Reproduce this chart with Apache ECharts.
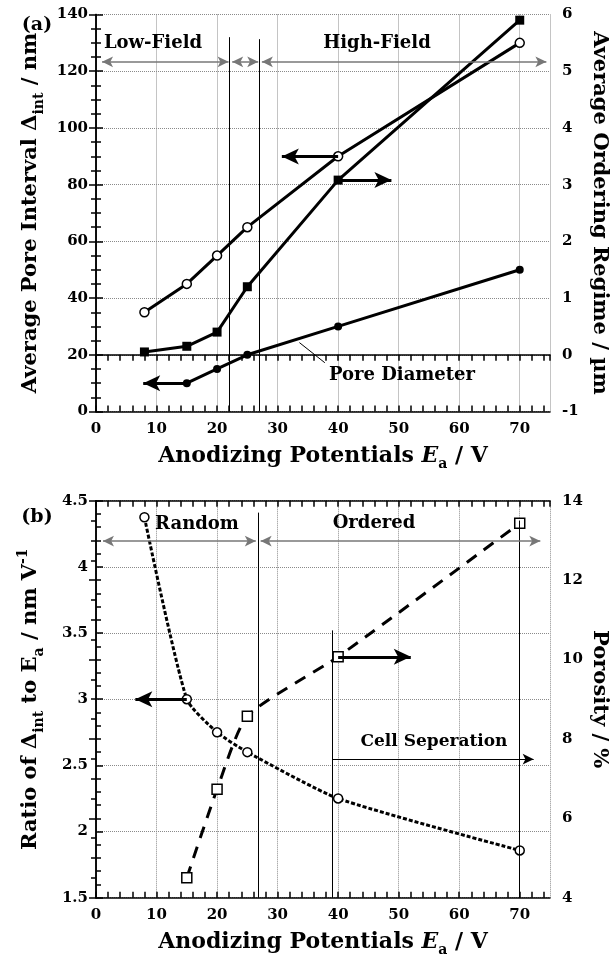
<!DOCTYPE html>
<html>
<head>
<meta charset="utf-8">
<script src="https://cdn.jsdelivr.net/npm/echarts@6/dist/echarts.min.js"></script>
<style>
  html, body { margin: 0; padding: 0; background: #fff; }
  #chart { width: 615px; height: 970px; }
</style>
</head>
<body>
<div id="chart"></div>
<script>
// (a) 세공 간격 / 정렬 영역 / 세공 직경
var voltsA = [8, 15, 20, 25, 40, 70];
var poreInterval = [35, 45, 55, 65, 90, 130];
var orderingRegime = [0.05, 0.15, 0.4, 1.2, 3.08, 5.9];
var voltsDiam = [15, 20, 25, 40, 70];
var poreDiameter = [10, 15, 20, 30, 50];
// (b) 간격/전압 비 와 다공도
var voltsB = [8, 15, 20, 25, 40, 70];
var ratioInterval = [4.375, 3.0, 2.75, 2.6, 2.25, 1.857];
var voltsPor = [15, 20, 25, 40, 70];
var porosity = [4.5, 6.73, 8.57, 10.07, 13.43];

var FONT = "DejaVu Serif";
var GRID_CLR = "#8a8a8a";
var ARROW_GRAY = "#777";

function pairs(xs, ys) {
  return xs.map(function (x, i) { return [x, ys[i]]; });
}

function nameStyle(size) {
  return { fontFamily: FONT, fontWeight: "bold", fontSize: size, color: "#000",
           lineHeight: 30,
           rich: {
             sub: { fontFamily: FONT, fontWeight: "bold", fontSize: 14, lineHeight: 14, verticalAlign: "bottom" },
             sup: { fontFamily: FONT, fontWeight: "bold", fontSize: 14, lineHeight: 14, verticalAlign: "top" },
             it: { fontFamily: FONT, fontWeight: "bold", fontStyle: "italic", fontSize: size }
           } };
}
var labelStyle = { fontFamily: FONT, fontWeight: "bold", fontSize: 15, color: "#000" };
var axisLineBlack = { show: true, lineStyle: { color: "#000", width: 1.5 } };

// x 축: 눈금(2V 간격) 아래/위 + 격자(10V) 전용 축
function xAxes(grid) {
  return [
    { gridIndex: grid, type: "value", position: "bottom", min: 0, max: 75, interval: 2,
      axisLine: axisLineBlack,
      axisTick: { inside: true, length: 6, lineStyle: { color: "#000", width: 1.5 } },
      axisLabel: Object.assign({ margin: 10, showMaxLabel: false,
        formatter: function (v) { return v % 10 === 0 ? String(v) : ""; } }, labelStyle),
      splitLine: { show: false },
      name: "Anodizing Potentials {it|E}{sub|a} / V",
      nameLocation: "middle", nameGap: 30, nameMoveOverlap: false,
      nameTextStyle: nameStyle(22) },
    { gridIndex: grid, type: "value", position: "top", min: 0, max: 75, interval: 2,
      axisLine: axisLineBlack,
      axisTick: { inside: true, length: 6, lineStyle: { color: "#000", width: 1.5 } },
      axisLabel: { show: false }, splitLine: { show: false } },
    { gridIndex: grid, type: "value", position: "bottom", min: 0, max: 75, interval: 10,
      axisLine: { show: false }, axisTick: { show: false },
      axisLabel: { show: false },
      splitLine: { show: true, lineStyle: { color: GRID_CLR, type: "dotted", width: 1 } } }
  ];
}

function yAxis(grid, pos, min, max, interval, minorSplit, name, gap, rotate, withSplit) {
  return {
    gridIndex: grid, type: "value", position: pos, min: min, max: max, interval: interval,
    axisLine: axisLineBlack,
    axisTick: { inside: true, length: 7, lineStyle: { color: "#000", width: 1.5 } },
    minorTick: { show: true, splitNumber: minorSplit, length: 5, lineStyle: { color: "#000", width: 1.5 } },
    axisLabel: Object.assign({ margin: pos === "left" ? 8 : 12 }, labelStyle),
    splitLine: { show: withSplit, lineStyle: { color: GRID_CLR, type: "dotted", width: 1 } },
    name: name, nameLocation: "middle", nameGap: gap, nameRotate: rotate,
    nameMoveOverlap: false, nameTextStyle: nameStyle(21)
  };
}

function seg(x1, y1, x2, y2, s1, s2, color, width, size) {
  return [
    { coord: [x1, y1], symbol: s1, symbolSize: size, lineStyle: { color: color, width: width, type: "solid" } },
    { coord: [x2, y2], symbol: s2, symbolSize: size }
  ];
}
var BIG = [12, 17], SMALL = [8, 11];

var topMarks = [
  // 영역 구분 수직선
  seg(22, 0, 22, 132, "none", "none", "#000", 1, 1),
  seg(27, 0, 27, 131.3, "none", "none", "#000", 1, 1),
  // Low/High-Field 범위 화살표
  seg(1, 123.3, 21.9, 123.3, "arrow", "arrow", ARROW_GRAY, 1.5, SMALL),
  seg(22.5, 123.3, 26.8, 123.3, "arrow", "arrow", ARROW_GRAY, 1.5, SMALL),
  seg(27.4, 123.3, 74.4, 123.3, "arrow", "arrow", ARROW_GRAY, 1.5, SMALL),
  // 축 지시 화살표
  seg(40, 89.9, 30.7, 89.9, "none", "arrow", "#000", 3, BIG),
  seg(40, 81.6, 48.8, 81.6, "none", "arrow", "#000", 3, BIG),
  seg(15, 10, 7.8, 10, "none", "arrow", "#000", 3, BIG),
  // Pore Diameter 지시선
  seg(33.6, 24.3, 37.8, 17.2, "none", "none", "#000", 1, 1)
];

var botMarks = [
  seg(26.8, 1.5, 26.8, 4.41, "none", "none", "#000", 1, 1),
  seg(39.1, 1.5, 39.1, 3.52, "none", "none", "#000", 1, 1),
  seg(70, 1.5, 70, 4.35, "none", "none", "#000", 1, 1),
  seg(1.15, 4.195, 26.4, 4.195, "arrow", "arrow", ARROW_GRAY, 1.5, SMALL),
  seg(27.2, 4.195, 73.4, 4.195, "arrow", "arrow", ARROW_GRAY, 1.5, SMALL),
  seg(39.1, 2.547, 72.3, 2.547, "none", "arrow", "#000", 1, SMALL),
  seg(15, 3.0, 6.5, 3.0, "none", "arrow", "#000", 3, BIG),
  seg(40, 3.32, 52, 3.32, "none", "arrow", "#000", 3, BIG)
];

function markLines(data) {
  return { silent: true, animation: false, label: { show: false },
           emphasis: { disabled: true }, data: data };
}

var openStyle = { color: "#fff", borderColor: "#000", borderWidth: 1.5 };
var solidStyle = { color: "#000", borderColor: "#000", borderWidth: 0 };

function txt(x, y, s, size) {
  return { type: "text", x: x, y: y, z: 10,
           style: { text: s, font: "bold " + size + "px '" + FONT + "'", fill: "#000",
                    align: "center", verticalAlign: "middle" } };
}

var chart = echarts.init(document.getElementById("chart"), null, { renderer: "canvas" });
chart.setOption({
  animation: false,
  backgroundColor: "#fff",
  grid: [
    { left: 96, top: 14.5, width: 454, height: 397, outerBoundsMode: "none", containLabel: false },
    { left: 96, top: 500.7, width: 454, height: 397, outerBoundsMode: "none", containLabel: false }
  ],
  xAxis: xAxes(0).concat(xAxes(1)),
  yAxis: [
    yAxis(0, "left", 0, 140, 20, 4, "Average Pore Interval \u0394{sub|int} / nm", 50, 90, true),
    yAxis(0, "right", -1, 6, 1, 4, "Average Ordering Regime / \u00b5m", 34, -90, false),
    yAxis(1, "left", 1.5, 4.5, 0.5, 5, "Ratio of \u0394{sub|int} to E{sub|a} / nm V{sup|-1}", 50, 90, true),
    yAxis(1, "right", 4, 14, 2, 4, "Porosity / %", 34, -90, false)
  ],
  series: [
    { name: "interval", type: "line", xAxisIndex: 0, yAxisIndex: 0,
      data: pairs(voltsA, poreInterval), symbol: "circle", symbolSize: 9,
      lineStyle: { color: "#000", width: 3 }, itemStyle: openStyle, z: 3,
      markLine: markLines(topMarks) },
    { name: "ordering", type: "line", xAxisIndex: 0, yAxisIndex: 1,
      data: pairs(voltsA, orderingRegime), symbol: "rect", symbolSize: 9,
      lineStyle: { color: "#000", width: 3 }, itemStyle: solidStyle, z: 3 },
    { name: "diameter", type: "line", xAxisIndex: 0, yAxisIndex: 0,
      data: pairs(voltsDiam, poreDiameter), symbol: "circle", symbolSize: 8,
      lineStyle: { color: "#000", width: 3 }, itemStyle: solidStyle, z: 3 },
    { name: "ratio", type: "line", xAxisIndex: 3, yAxisIndex: 2,
      data: pairs(voltsB, ratioInterval), symbol: "circle", symbolSize: 9,
      smooth: 0.2,
      lineStyle: { color: "#000", width: 3, type: [4, 2] }, itemStyle: openStyle, z: 3,
      markLine: markLines(botMarks) },
    { name: "porosity", type: "line", xAxisIndex: 3, yAxisIndex: 3,
      data: pairs(voltsPor, porosity), symbol: "rect", symbolSize: 10,
      smooth: 0.2,
      lineStyle: { color: "#000", width: 3, type: [12, 9] }, itemStyle: openStyle, z: 3 }
  ],
  graphic: [
    txt(37, 25, "(a)", 19),
    txt(153, 43, "Low-Field", 18),
    txt(377, 43, "High-Field", 18),
    txt(402, 375, "Pore Diameter", 18),
    txt(37, 517, "(b)", 19),
    txt(197, 524, "Random", 18),
    txt(374, 523, "Ordered", 18),
    txt(434, 742, "Cell Seperation", 17)
  ]
});
</script>
</body>
</html>
